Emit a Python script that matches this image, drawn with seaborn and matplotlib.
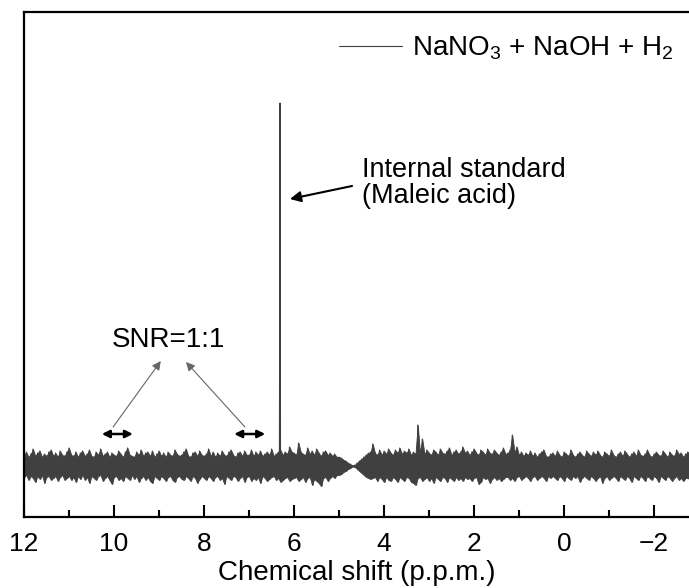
import numpy as np
import pandas as pd
import seaborn as sns
import matplotlib.pyplot as plt
from matplotlib.ticker import MultipleLocator

# ---------------- data (arbitrary intensity units) ----------------
step = 0.05
# noise envelope, 12.00 -> 5.05 ppm
left_start = 12.0
up_left = [
    10, 14, 9, 12, 17, 10, 13, 15, 9, 12, 10, 14, 16, 10, 13, 9, 15, 11, 10, 14,
    18, 11, 10, 14, 9, 13, 15, 10, 12, 16, 10, 9, 14, 11, 17, 10, 12, 14, 9, 13,
    11, 10, 15, 12, 9, 14, 18, 11, 10, 9, 14, 11, 16, 10, 13, 14, 10, 15, 9, 12,
    15, 10, 13, 9, 14, 11, 10, 16, 12, 10, 11, 14, 17, 10, 9, 13, 14, 10, 15, 11,
    10, 12, 17, 10, 14, 9, 13, 10, 15, 11, 10, 14, 16, 11, 9, 13, 14, 10, 15, 11,
    11, 16, 10, 14, 11, 15, 10, 12, 14, 11, 17, 10, 12, 14, 16, 11, 14, 12, 19, 14,
    13, 11, 23, 14, 12, 11, 18, 12, 15, 11, 17, 13, 10, 14, 15, 11, 13, 10, 12, 9,
]
down_left = [
    -11, -9, -14, -10, -12, -16, -10, -13, -9, -17, -11, -10, -14, -12, -10, -15, -11, -9, -14, -12,
    -10, -14, -11, -16, -10, -13, -9, -14, -11, -17, -10, -12, -14, -10, -9, -15, -12, -10, -14, -18,
    -11, -10, -14, -12, -15, -10, -12, -14, -9, -13, -10, -16, -12, -10, -14, -11, -15, -17, -10, -12,
    -14, -10, -12, -15, -11, -10, -14, -16, -11, -10, -13, -14, -10, -12, -15, -10, -12, -17, -13, -10,
    -12, -14, -10, -12, -15, -11, -10, -14, -12, -18, -10, -12, -14, -10, -11, -15, -12, -10, -16, -11,
    -10, -15, -12, -14, -11, -17, -10, -12, -15, -13, -11, -10, -14, -12, -16, -14, -12, -11, -15, -13,
    -12, -11, -15, -13, -11, -16, -12, -11, -19, -13, -15, -17, -20, -12, -11, -15, -12, -10, -12, -9,
]
# water-suppression waist, 5.00 -> 4.30 ppm
mid_start = 5.00
up_mid = [9, 8, 6, 5, 3, 2, 0.5, 1, 3, 5, 7, 9, 11, 13, 14]
down_mid = [-9, -8, -6, -5, -3, -2, -0.5, -1, -3, -5, -7, -9, -11, -12, -13]
# noise envelope, 4.25 -> -2.80 ppm
right_start = 4.25
up_right = [
    22, 13, 11, 16, 11, 15, 12, 17, 13, 11, 16, 13, 18, 12, 15, 13, 17, 11, 14, 12,
    41, 13, 27, 12, 16, 13, 11, 16, 14, 11, 17, 13, 12, 15, 18, 11, 14, 16, 12, 14,
    19, 13, 15, 11, 14, 17, 13, 11, 16, 14, 11, 17, 13, 12, 16, 13, 11, 14, 18, 12,
    13, 16, 31, 14, 19, 11, 14, 10, 13, 11, 15, 10, 13, 9, 12, 14, 16, 10, 9, 12,
    13, 10, 15, 11, 9, 14, 12, 10, 16, 11, 9, 12, 14, 11, 9, 15, 12, 10, 14, 11,
    15, 11, 9, 14, 12, 10, 16, 11, 9, 12, 14, 10, 15, 12, 9, 12, 14, 10, 16, 11,
    10, 12, 16, 11, 9, 12, 14, 11, 10, 15, 12, 9, 14, 11, 10, 16, 12, 13, 9, 12,
    14, 11,
]
down_right = [
    -12, -11, -15, -11, -13, -16, -11, -14, -15, -11, -13, -16, -11, -13, -15, -11, -12, -16, -17, -19,
    -12, -11, -15, -13, -11, -15, -12, -17, -11, -13, -15, -11, -12, -16, -11, -13, -15, -11, -14, -12,
    -15, -11, -13, -12, -15, -12, -11, -18, -16, -11, -13, -12, -17, -13, -11, -14, -12, -15, -13, -11,
    -11, -14, -12, -15, -11, -10, -14, -12, -10, -12, -15, -11, -10, -14, -12, -10, -12, -15, -10, -12,
    -10, -12, -14, -10, -12, -15, -10, -12, -14, -10, -12, -10, -16, -12, -10, -12, -14, -10, -12, -15,
    -12, -10, -17, -12, -10, -14, -12, -10, -12, -15, -10, -12, -14, -10, -12, -16, -10, -12, -14, -10,
    -12, -15, -10, -12, -14, -10, -12, -16, -10, -12, -14, -10, -12, -15, -12, -10, -14, -12, -15, -12,
    -12, -14,
]
# sharp peak (internal standard)
peak_shift = [6.31]
peak_height = [363]

legend_label = "NaNO$_3$ + NaOH + H$_2$"

# ---------------- build tables ----------------
def grid(start, n):
    return start - step * np.arange(n)

env_x = np.concatenate([grid(left_start, len(up_left)), grid(mid_start, len(up_mid)),
                        grid(right_start, len(up_right))])
env_up = np.concatenate([up_left, up_mid, up_right]).astype(float)
env_dn = np.concatenate([down_left, down_mid, down_right]).astype(float)
env = pd.DataFrame({"shift": env_x, "up": env_up, "down": env_dn})

# spectrum trace: alternates between the upper and lower envelope, plus the peak
trace = pd.DataFrame({
    "shift": np.concatenate([env_x, env_x - step / 2, peak_shift]),
    "intensity": np.concatenate([env_up, env_dn, peak_height]).astype(float),
})
trace["shift"] = trace["shift"].round(4)
trace = trace.sort_values("shift")

# ---------------- style ----------------
sns.set_theme(style="ticks")
plt.rcParams["font.family"] = ["Liberation Sans", "DejaVu Sans"]
plt.rcParams["mathtext.fontset"] = "custom"
plt.rcParams["mathtext.rm"] = "Liberation Sans"
plt.rcParams["mathtext.it"] = "Liberation Sans:italic"
plt.rcParams["text.color"] = "black"
plt.rcParams["axes.labelcolor"] = "black"
plt.rcParams["xtick.color"] = "black"

fig = plt.figure(figsize=(6.89, 5.88), dpi=100)
ax = fig.add_axes([24 / 689, 71 / 588, 665 / 689, 505 / 588])

line_color = "#404040"
ax.fill_between(env["shift"], env["down"], env["up"], color=line_color,
                linewidth=0.6, edgecolor=line_color)
sns.lineplot(data=trace, x="shift", y="intensity", ax=ax, color=line_color,
             linewidth=0.8, estimator=None, sort=True, label=legend_label)

ax.set_xlim(12, 12 - 665 / 45)
ax.set_ylim(-51, 454)
ax.set_yticks([])
ax.set_ylabel("")
ax.xaxis.set_major_locator(MultipleLocator(2))
ax.xaxis.set_minor_locator(MultipleLocator(1))
ax.tick_params(axis="x", which="major", direction="in", length=9, width=1.5,
               labelsize=19, pad=11, colors="black")
ax.tick_params(axis="x", which="minor", direction="in", length=5, width=1.5)
for s in ["left", "bottom", "top"]:
    ax.spines[s].set_linewidth(1.6)
    ax.spines[s].set_color("black")
ax.spines["right"].set_visible(False)
ax.set_xlabel("Chemical shift (p.p.m.)", fontsize=20, labelpad=3, color="black")

leg = ax.legend(loc="upper right", frameon=False, fontsize=20, handlelength=2.27,
                handletextpad=0.36, borderaxespad=0, borderpad=0,
                bbox_to_anchor=((673 - 24) / 665, (517 - 35) / 505))

# annotations
ax.text(4.49, 283, "Internal standard\n(Maleic acid)", fontsize=19.5, ha="left",
        va="center", linespacing=1.0)
ax.annotate("", xy=(6.09, 267), xytext=(4.71, 280),
            arrowprops=dict(arrowstyle="-|>", color="black", lw=1.5,
                            mutation_scale=16, shrinkA=0, shrinkB=0))
ax.text(8.78, 126, "SNR=1:1", fontsize=20, ha="center", va="center")
for (x0, y0, x1, y1) in [(10.02, 39, 8.96, 105), (7.09, 39, 8.40, 104)]:
    ax.annotate("", xy=(x1, y1), xytext=(x0, y0),
                arrowprops=dict(arrowstyle="-|>", color="#666666", lw=0.8,
                                mutation_scale=13, shrinkA=0, shrinkB=0))
for (xa, xb) in [(10.27, 9.58), (7.33, 6.64)]:
    ax.annotate("", xy=(xb, 32), xytext=(xa, 32),
                arrowprops=dict(arrowstyle="<|-|>", color="black", lw=1.8,
                                mutation_scale=11, shrinkA=0, shrinkB=0))

fig.savefig("out.png", dpi=100)
